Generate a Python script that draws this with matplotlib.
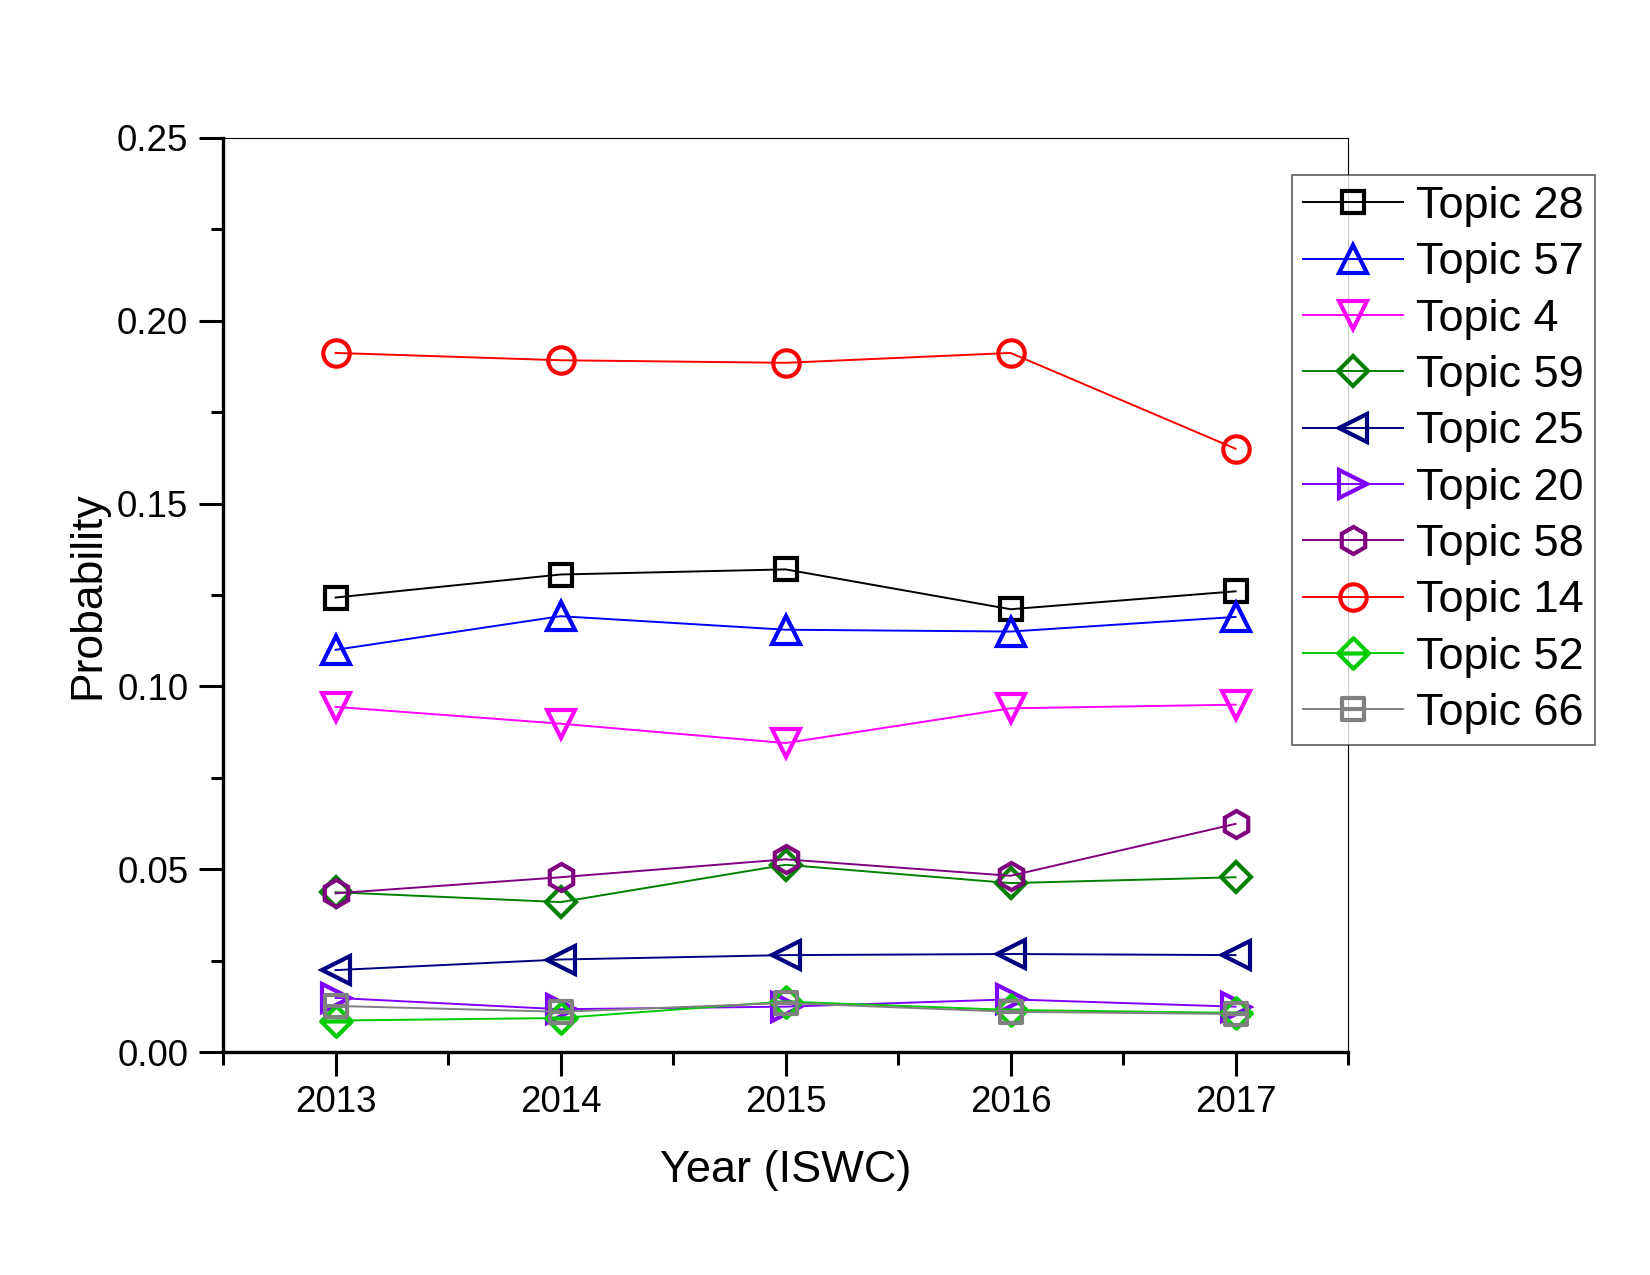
import numpy as np
import matplotlib.pyplot as plt
from matplotlib.path import Path

plt.rcParams['font.family'] = ['Liberation Sans', 'DejaVu Sans']

years = [2013, 2014, 2015, 2016, 2017]

topic_28 = [0.1243, 0.1306, 0.1320, 0.1211, 0.1260]
topic_57 = [0.1100, 0.1192, 0.1155, 0.1150, 0.1190]
topic_4 = [0.0944, 0.0898, 0.0845, 0.0940, 0.0950]
topic_59 = [0.0437, 0.0410, 0.0512, 0.0462, 0.0478]
topic_25 = [0.0224, 0.0253, 0.0265, 0.0268, 0.0265]
topic_20 = [0.0148, 0.0117, 0.0124, 0.0144, 0.0124]
topic_58 = [0.0434, 0.0478, 0.0527, 0.0482, 0.0624]
topic_14 = [0.1912, 0.1892, 0.1885, 0.1912, 0.1650]
topic_52 = [0.0086, 0.0093, 0.0138, 0.0115, 0.0107]
topic_66 = [0.0126, 0.0110, 0.0134, 0.0110, 0.0104]

labels = ['Topic 28', 'Topic 57', 'Topic 4', 'Topic 59', 'Topic 25',
          'Topic 20', 'Topic 58', 'Topic 14', 'Topic 52', 'Topic 66']
series = [topic_28, topic_57, topic_4, topic_59, topic_25,
          topic_20, topic_58, topic_14, topic_52, topic_66]
colors = ['#000000', '#0000FF', '#FF00FF', '#008000', '#000080',
          '#8000FF', '#800080', '#FF0000', '#00CC00', '#808080']

# square / diamond with a bar through the middle (Origin style)
sq_bar = Path([(-1, -1), (1, -1), (1, 1), (-1, 1), (-1, -1), (-1, 0), (1, 0)],
              [Path.MOVETO, Path.LINETO, Path.LINETO, Path.LINETO, Path.CLOSEPOLY,
               Path.MOVETO, Path.LINETO])
dia_bar = Path([(0, -1), (1, 0), (0, 1), (-1, 0), (0, -1), (-1, 0), (1, 0)],
               [Path.MOVETO, Path.LINETO, Path.LINETO, Path.LINETO, Path.CLOSEPOLY,
                Path.MOVETO, Path.LINETO])

markers = ['s', '^', 'v', 'D', '<', '>', 'h', 'o', dia_bar, sq_bar]
sizes = [16, 19.5, 19.5, 15.5, 19.5, 19.5, 19.5, 19, 22, 16]

fig = plt.figure(figsize=(16.5, 12.75), dpi=100)
ax = fig.add_axes([0.1352, 0.1749, 0.6818, 0.7169])

for vals, lab, col, mk, ms in zip(series, labels, colors, markers, sizes):
    ax.plot(years, vals, color=col, lw=1.4, marker=mk, ms=ms,
            mfc='none', mec=col, mew=3, label=lab)

ax.set_xlim(2012.5, 2017.5)
ax.set_ylim(0, 0.25)
ax.set_xticks(years)
ax.set_xticks(np.arange(2012.5, 2018, 1.0), minor=True)
ax.set_yticks([0.00, 0.05, 0.10, 0.15, 0.20, 0.25])
ax.set_yticklabels(['0.00', '0.05', '0.10', '0.15', '0.20', '0.25'])
ax.set_yticks(np.arange(0.025, 0.25, 0.05), minor=True)

ax.tick_params(which='major', direction='out', length=17, width=2.2,
               labelsize=26.5, top=False, right=False)
ax.tick_params(which='minor', direction='out', length=9, width=2.2,
               top=False, right=False)
ax.tick_params(axis='x', pad=7)
ax.tick_params(axis='y', pad=8)

for s in ['left', 'bottom']:
    ax.spines[s].set_linewidth(2.4)
for s in ['top', 'right']:
    ax.spines[s].set_linewidth(0.8)

ax.set_xlabel('Year (ISWC)', fontsize=32.5, labelpad=21)
ax.set_ylabel('Probability', fontsize=32, labelpad=6)

leg = fig.legend(loc='upper left', bbox_to_anchor=(0.783, 0.863),
                 borderaxespad=0, fontsize=32.5, frameon=True, fancybox=False,
                 handlelength=2.2, handletextpad=0.3, borderpad=0.25,
                 labelspacing=0.34)
leg.get_frame().set_edgecolor('#333333')
leg.get_frame().set_linewidth(1.2)

fig.savefig('out.png', dpi=100)
